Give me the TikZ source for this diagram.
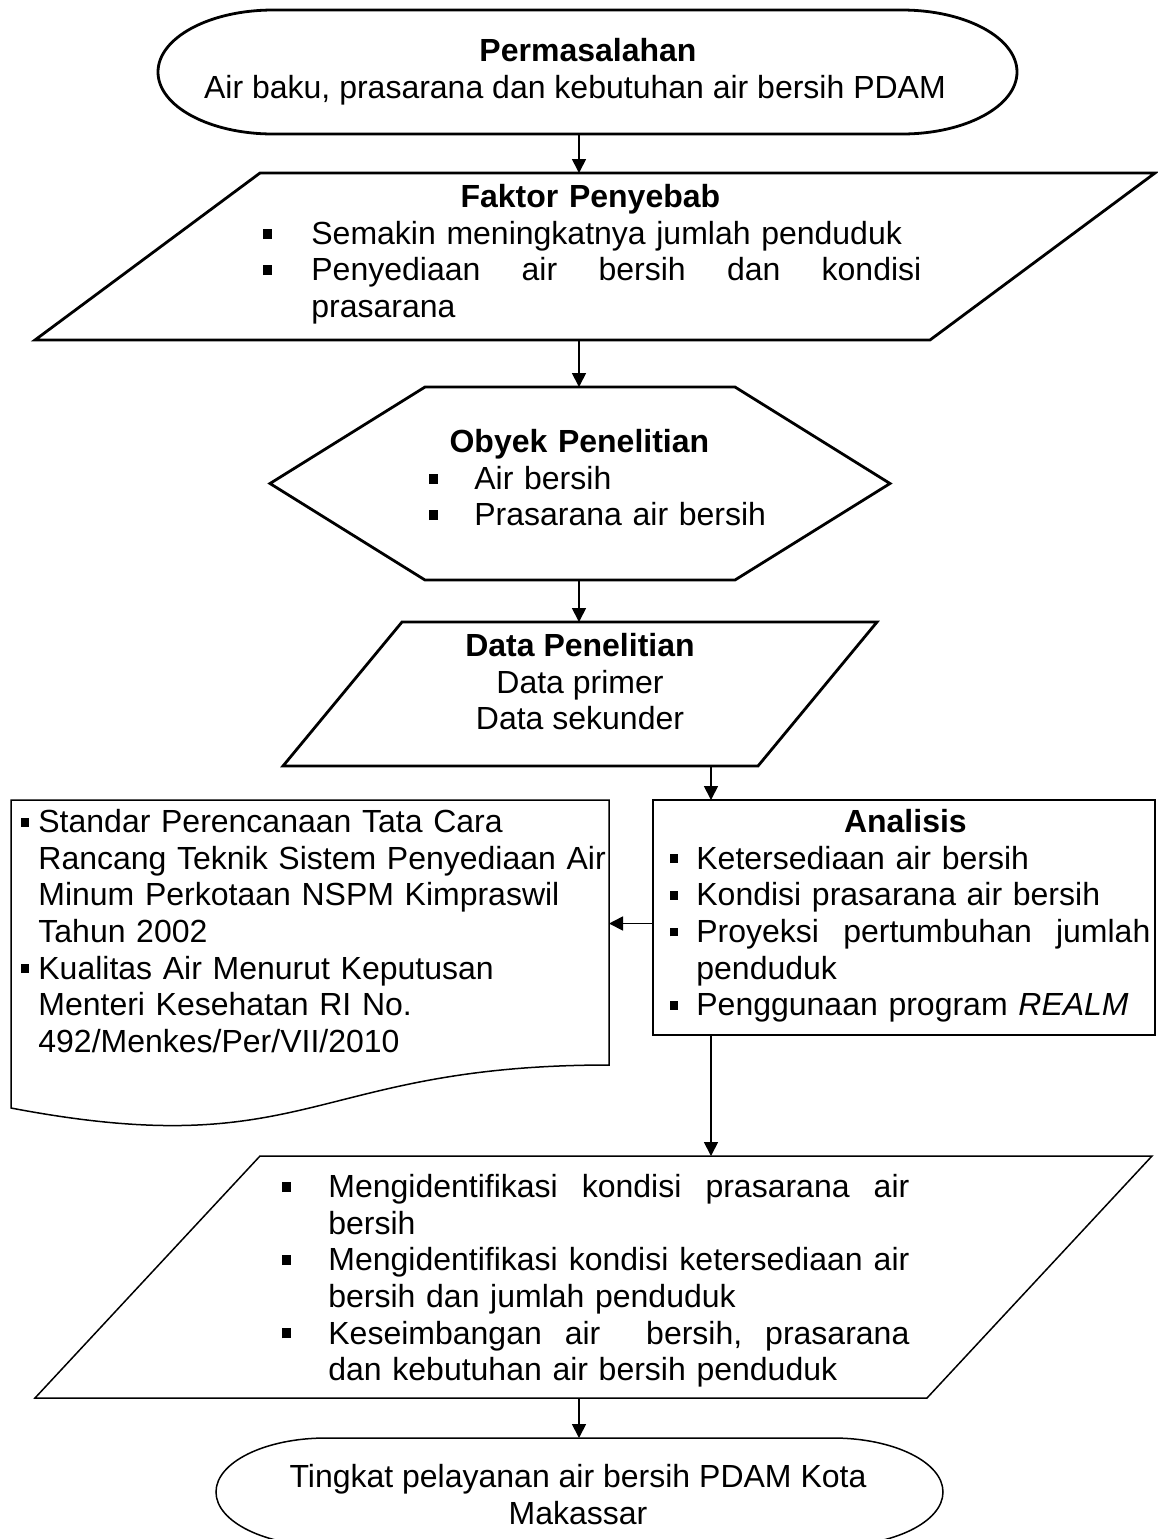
\documentclass[tikz,border=0pt]{standalone}
\usepackage{fontspec}
\setmainfont{Liberation Sans}
\usetikzlibrary{arrows.meta,calc}
\newcommand{\sqbul}{\rule[2.8pt]{4.5pt}{5pt}}
\newcommand{\sqbulsm}{\rule[3pt]{3.8pt}{4.4pt}}
\newcommand{\jline}[2]{\hbox to #1{#2}}
\tikzset{
  txt/.style={font=\fontsize{16}{18.3}\selectfont, inner sep=0pt},
  blk/.style={inner sep=0pt, outer sep=0pt},
  edgethick/.style={line width=1.4pt},
  edgethin/.style={line width=0.75pt},
  arr/.style={line width=0.85pt, -{Triangle[length=7pt,width=7pt]}}
}

\begin{document}
\begin{tikzpicture}[x=0.5pt,y=0.5pt]
\useasboundingbox (0,0) rectangle (1158,-1539);
\coordinate (axis) at (579,0);
\coordinate (drop) at (711,0);

% blocks
\node[blk, minimum width=429.5pt, minimum height=62pt] (prob) at (587.5,-72) {};
\node[blk, minimum width=560pt, minimum height=83.5pt] (fakt) at (595,-256.5) {};
\node[blk, minimum width=310pt, minimum height=96.5pt] (obyek) at (580,-483.5) {};
\node[blk, minimum width=297pt, minimum height=72pt] (data) at (580,-694) {};
\node[blk, minimum width=251pt, minimum height=117.5pt] (anal) at (904,-917.5) {};
\node[blk, minimum width=299pt, minimum height=165pt] (std) at (310,-965) {};
\node[blk, minimum width=558.5pt, minimum height=121pt] (hasil) at (593.5,-1277) {};
\node[blk, minimum width=363.5pt, minimum height=54pt] (tingkat) at (579.5,-1492) {};

% outlines
\draw[edgethick] ($(prob.north west)+(115,0)$) -- ($(prob.north east)+(-115,0)$)
  arc[start angle=90, end angle=-90, x radius=115, y radius=62]
  -- ($(prob.south west)+(115,0)$)
  arc[start angle=270, end angle=90, x radius=115, y radius=62] -- cycle;
\draw[edgethick] ($(fakt.north west)+(225,0)$) -- (fakt.north east)
  -- ($(fakt.south east)+(-225,0)$) -- (fakt.south west) -- cycle;
\draw[edgethick] (obyek.west) -- ($(obyek.north west)+(155,0)$)
  -- ($(obyek.north east)+(-155,0)$) -- (obyek.east)
  -- ($(obyek.south east)+(-155,0)$) -- ($(obyek.south west)+(155,0)$) -- cycle;
\draw[edgethick] ($(data.north west)+(119,0)$) -- (data.north east)
  -- ($(data.south east)+(-119,0)$) -- (data.south west) -- cycle;
\draw[edgethick] (anal.north west) rectangle (anal.south east);
\draw[edgethin] (std.north west) -- (std.north east) -- ($(std.north east)+(0,-265)$)
  .. controls ($(std.north)+(0,-265)$) and ($(std.north)+(0,-365)$) .. ($(std.north west)+(0,-308)$) -- cycle;
\draw[edgethin] ($(hasil.north west)+(225,0)$) -- (hasil.north east)
  -- ($(hasil.south east)+(-225,0)$) -- (hasil.south west) -- cycle;
\draw[edgethin] ($(tingkat.north west)+(110,0)$) -- ($(tingkat.north east)+(-110,0)$)
  arc[start angle=90, end angle=-90, x radius=110, y radius=54]
  -- ($(tingkat.south west)+(110,0)$)
  arc[start angle=270, end angle=90, x radius=110, y radius=54] -- cycle;

% texts
\node[txt, anchor=north, align=center] (probtxt) at (575,-38)
  {\hspace*{13pt}\textbf{Permasalahan}\\Air baku, prasarana dan kebutuhan air bersih PDAM};
\node[txt, anchor=north west, text width=340pt, align=left] (fakttxt) at (263,-184) {%
  \makebox[327pt]{\textbf{Faktor Penyebab}}\\
  \makebox[24pt][l]{\sqbul}Semakin meningkatnya jumlah penduduk\\
  \makebox[24pt][l]{\sqbul}\jline{305pt}{Penyediaan\hfill air\hfill bersih\hfill dan\hfill kondisi}\\
  \hspace*{24pt}prasarana};
\node[txt, anchor=north west, text width=180pt, align=left] (obyektxt) at (429,-429) {%
  \makebox[150pt]{\textbf{Obyek Penelitian}}\\
  \makebox[22.5pt][l]{\sqbul}Air bersih\\
  \makebox[22.5pt][l]{\sqbul}Prasarana air bersih};
\node[txt, anchor=north, align=center] (datatxt) at (580,-633)
  {\textbf{Data Penelitian}\\Data primer\\Data sekunder};
\node[txt, anchor=north west, text width=245pt, align=left] (analtxt) at (670,-809) {%
  \makebox[235pt]{\textbf{Analisis}}\\
  \makebox[13pt][l]{\sqbulsm}Ketersediaan air bersih\\
  \makebox[13pt][l]{\sqbulsm}Kondisi prasarana air bersih\\
  \makebox[13pt][l]{\sqbulsm}\jline{227pt}{Proyeksi\hfill pertumbuhan\hfill jumlah}\\
  \hspace*{13pt}penduduk\\
  \makebox[13pt][l]{\sqbulsm}Penggunaan program \textit{REALM}};
\node[txt, anchor=north west, text width=300pt, align=left] (stdtxt) at (21,-809) {%
  \makebox[8.5pt][l]{\sqbulsm}Standar Perencanaan Tata Cara\\
  \hspace*{8.5pt}Rancang Teknik Sistem Penyediaan Air\\
  \hspace*{8.5pt}Minum Perkotaan NSPM Kimpraswil\\
  \hspace*{8.5pt}Tahun 2002\\
  \makebox[8.5pt][l]{\sqbulsm}Kualitas Air Menurut Keputusan\\
  \hspace*{8.5pt}Menteri Kesehatan RI No.\\
  \hspace*{8.5pt}492/Menkes/Per/VII/2010};
\node[txt, anchor=north west, text width=320pt, align=left] (hasiltxt) at (282,-1174) {%
  \makebox[23pt][l]{\sqbul}\jline{290.5pt}{Mengidentifikasi\hfill kondisi\hfill prasarana\hfill air}\\
  \hspace*{23pt}bersih\\
  \makebox[23pt][l]{\sqbul}\jline{290.5pt}{Mengidentifikasi\hfill kondisi\hfill ketersediaan\hfill air}\\
  \hspace*{23pt}bersih dan jumlah penduduk\\
  \makebox[23pt][l]{\sqbul}\jline{290.5pt}{Keseimbangan\hfill air\hfill\hfill bersih,\hfill prasarana}\\
  \hspace*{23pt}dan kebutuhan air bersih penduduk};
\node[txt, anchor=north, align=center] (tingkattxt) at (578,-1464)
  {Tingkat pelayanan air bersih PDAM Kota\\Makassar};

% connectors
\draw[arr] (prob.south -| axis) -- (fakt.north -| axis);
\draw[arr] (fakt.south -| axis) -- (obyek.north -| axis);
\draw[arr] (obyek.south -| axis) -- (data.north -| axis);
\draw[arr] (data.south -| drop) -- (anal.north -| drop);
\draw[arr] ($(anal.west)+(0,-6)$) -- ($(anal.west -| std.east)+(0,-6)$);
\draw[arr] (anal.south -| drop) -- (hasil.north -| drop);
\draw[arr] (hasil.south -| axis) -- (tingkat.north -| axis);
\end{tikzpicture}
\end{document}
